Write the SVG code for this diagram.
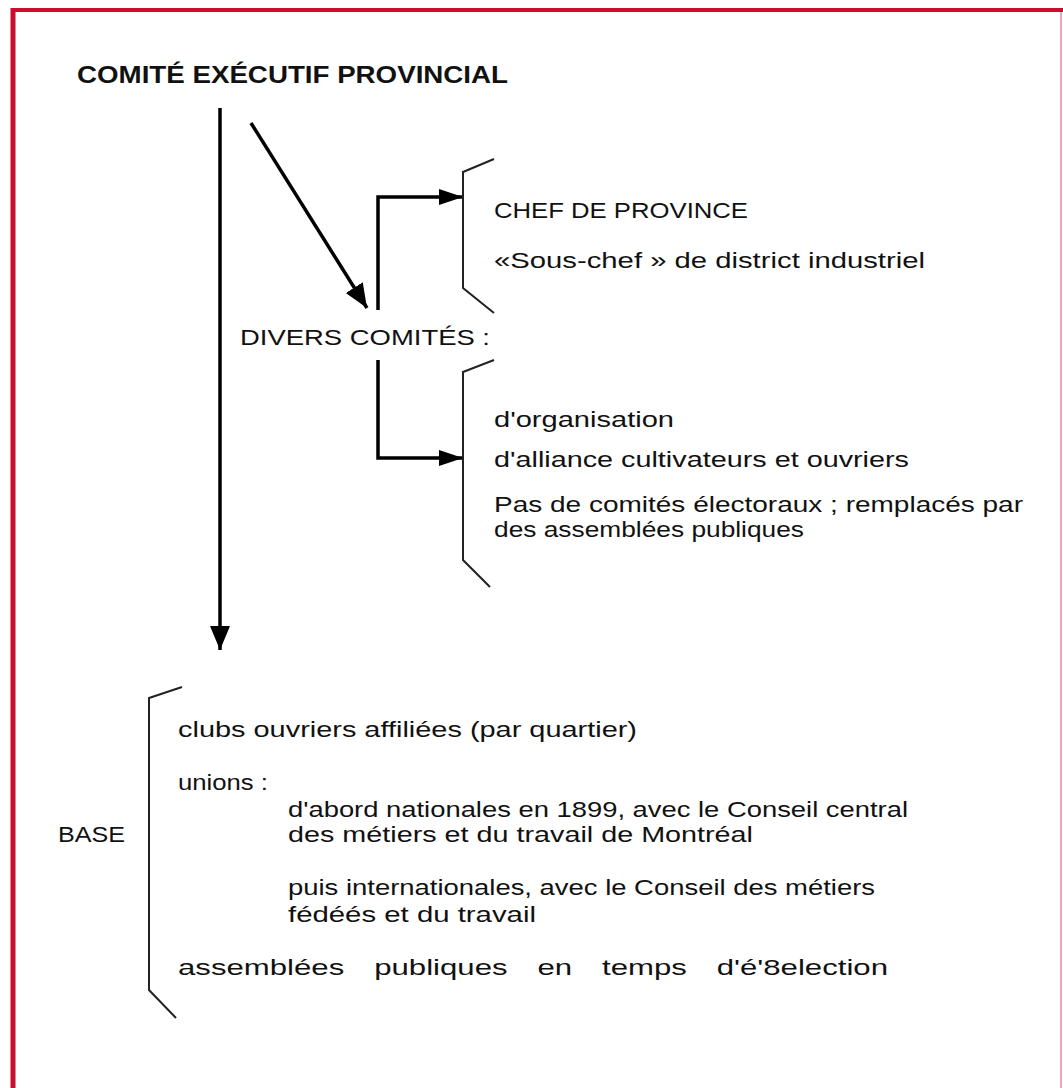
<svg xmlns="http://www.w3.org/2000/svg" width="1063" height="1088" viewBox="0 0 1063 1088">
<style>
.t{font-family:"Liberation Sans","Open Sans",sans-serif;font-size:22px;fill:#111}
.b{font-weight:bold;font-size:24px}
.br{fill:none;stroke:#222;stroke-width:2}
.cn{fill:none;stroke:#000;stroke-width:3.5}
</style>
<defs>
<marker id="ah" markerUnits="userSpaceOnUse" markerWidth="26" markerHeight="22" refX="24" refY="10" orient="auto">
<path d="M0,0 L24,10 L0,20 Z" fill="#000"/>
</marker>
<marker id="ah2" markerUnits="userSpaceOnUse" markerWidth="26" markerHeight="18" refX="24" refY="8" orient="auto">
<path d="M0,0 L24,8 L0,16 Z" fill="#000"/>
</marker>
</defs>
<rect width="1063" height="1088" fill="#fff"/>
<g id="frame">
<line x1="11" y1="10" x2="1063" y2="10" stroke="#c8102e" stroke-width="4"/>
<line x1="13" y1="8" x2="13" y2="1088" stroke="#c8102e" stroke-width="5"/>
<line x1="1061" y1="12" x2="1061" y2="1088" stroke="#e88a9c" stroke-width="1.5"/>
</g>
<g id="connectors">
<line class="cn" x1="220" y1="108" x2="220" y2="650" stroke-width="3" marker-end="url(#ah)"/>
<line class="cn" x1="251" y1="123" x2="367" y2="308" stroke-width="4" marker-end="url(#ah)"/>
<polyline class="cn" points="378,310 378,197 463,197" stroke-width="4" marker-end="url(#ah2)"/>
<polyline class="cn" points="378,360 378,458 463,458" stroke-width="4" marker-end="url(#ah2)"/>
</g>
<g id="node-comite">
<text class="t b" x="77" y="83" textLength="431" lengthAdjust="spacingAndGlyphs">COMITÉ EXÉCUTIF PROVINCIAL</text>
</g>
<g id="node-chef">
<polyline class="br" points="494,159 463,172 463,288 494,313"/>
<text class="t" x="494" y="218" textLength="254" lengthAdjust="spacingAndGlyphs">CHEF DE PROVINCE</text>
<text class="t" x="494" y="268" textLength="431" lengthAdjust="spacingAndGlyphs">«Sous-chef » de district industriel</text>
</g>
<g id="node-divers">
<text class="t" x="240" y="345" textLength="250" lengthAdjust="spacingAndGlyphs">DIVERS COMITÉS :</text>
</g>
<g id="node-comites">
<polyline class="br" points="494,360 463,372 463,560 490,587"/>
<text class="t" x="494" y="427" textLength="180" lengthAdjust="spacingAndGlyphs">d'organisation</text>
<text class="t" x="494" y="467" textLength="415" lengthAdjust="spacingAndGlyphs">d'alliance cultivateurs et ouvriers</text>
<text class="t" x="494" y="512" textLength="529" lengthAdjust="spacingAndGlyphs">Pas de comités électoraux ; remplacés par</text>
<text class="t" x="494" y="537" textLength="310" lengthAdjust="spacingAndGlyphs">des assemblées publiques</text>
</g>
<g id="node-base">
<polyline class="br" points="182,687 149,698 149,990 176,1018"/>
<text class="t" x="58" y="842" textLength="67" lengthAdjust="spacingAndGlyphs">BASE</text>
<text class="t" x="178" y="737" textLength="459" lengthAdjust="spacingAndGlyphs">clubs ouvriers affiliées (par quartier)</text>
<text class="t" x="178" y="790" textLength="90" lengthAdjust="spacingAndGlyphs">unions :</text>
<text class="t" x="288" y="817" textLength="620" lengthAdjust="spacingAndGlyphs">d'abord nationales en 1899, avec le Conseil central</text>
<text class="t" x="288" y="842" textLength="465" lengthAdjust="spacingAndGlyphs">des métiers et du travail de Montréal</text>
<text class="t" x="288" y="895" textLength="587" lengthAdjust="spacingAndGlyphs">puis internationales, avec le Conseil des métiers</text>
<text class="t" x="288" y="922" textLength="248" lengthAdjust="spacingAndGlyphs">fédéés et du travail</text>
<text class="t" x="178" y="975" style="word-spacing:15px" textLength="710" lengthAdjust="spacingAndGlyphs">assemblées publiques en temps d'é'8election</text>
</g>
</svg>
